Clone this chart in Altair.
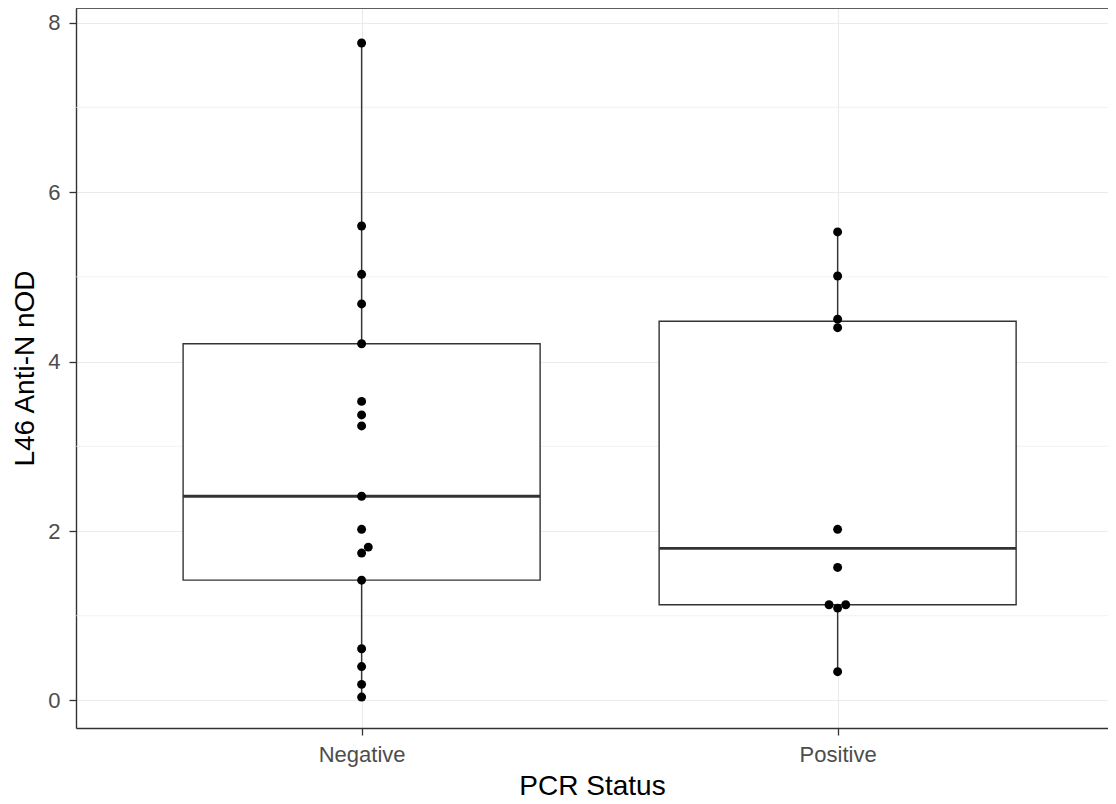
import altair as alt
import pandas as pd

# ---- data ----
categories = ["Negative", "Positive"]
neg_values = [7.76, 5.60, 5.03, 4.68, 4.21, 3.53, 3.37, 3.24, 2.41, 2.02,
              1.81, 1.74, 1.42, 0.61, 0.40, 0.19, 0.04]
neg_offsets = [0, 0, 0, 0, 0, 0, 0, 0, 0, 0,
               0.014, 0, 0, 0, 0, 0, 0]
pos_values = [5.53, 5.01, 4.50, 4.40, 2.02, 1.57, 1.13, 1.09, 1.13, 0.34]
pos_offsets = [0, 0, 0, 0, 0, 0, -0.018, 0, 0.017, 0]
y_major = [0, 2, 4, 6, 8]
y_minor = [1, 3, 5, 7]
Y_MIN, Y_MAX = -0.325, 8.173
X_MIN, X_MAX = 0.4, 2.568

rows = []
for i, (vals, offs) in enumerate([(neg_values, neg_offsets), (pos_values, pos_offsets)]):
    for v, o in zip(vals, offs):
        rows.append({"group": categories[i], "idx": i + 1, "value": v, "xp": i + 1 + o})
df = pd.DataFrame(rows)

FONT = "Liberation Sans"
BORDER = "#333333"
GRID = "#EBEBEB"
W, H = 1032, 720

xscale = alt.Scale(domain=[X_MIN, X_MAX], nice=False, zero=False)
yscale = alt.Scale(domain=[Y_MIN, Y_MAX], nice=False, zero=False)

label_expr = "datum.value == 1 ? '%s' : '%s'" % (categories[0], categories[1])

x_axis = alt.Axis(values=[1, 2], labelExpr=label_expr, title="PCR Status",
                  grid=True, gridColor=GRID, gridWidth=1.1,
                  domainColor=BORDER, domainWidth=1.4,
                  tickColor=BORDER, tickWidth=1.3, tickSize=7,
                  labelColor="#4D4D4D", labelFont=FONT, labelFontSize=22,
                  labelPadding=9,
                  titleFont=FONT, titleFontSize=28, titleFontWeight="normal",
                  titleColor="black", titleY=66, titleBaseline="alphabetic")
y_axis = alt.Axis(values=y_major, format="d", title="L46 Anti-N nOD",
                  grid=True, gridColor=GRID, gridWidth=1.1,
                  domainColor=BORDER, domainWidth=1.4,
                  tickColor=BORDER, tickWidth=1.3, tickSize=7,
                  labelColor="#4D4D4D", labelFont=FONT, labelFontSize=22,
                  labelPadding=9,
                  titleFont=FONT, titleFontSize=28, titleFontWeight="normal",
                  titleColor="black", titleAngle=270, titleX=-43, titleY=H / 2,
                  titleAlign="center", titleBaseline="alphabetic")

minor = alt.Chart(pd.DataFrame({"g": y_minor})).mark_rule(
    color=GRID, strokeWidth=0.7).encode(
    y=alt.Y("g:Q", scale=yscale, axis=y_axis))

top_border = alt.Chart(pd.DataFrame({"t": [Y_MAX]})).mark_rule(
    color=BORDER, strokeWidth=1.4).encode(
    y=alt.Y("t:Q", scale=yscale))

stats = (alt.Chart(df)
         .transform_joinaggregate(q1="q1(value)", q3="q3(value)", groupby=["idx"])
         .transform_calculate(lo="datum.q1 - 1.5*(datum.q3 - datum.q1)",
                              hi="datum.q3 + 1.5*(datum.q3 - datum.q1)")
         .transform_calculate(vin="datum.value >= datum.lo && datum.value <= datum.hi ? datum.value : null")
         .transform_aggregate(q1="min(q1)", q3="min(q3)", med="median(value)",
                              wlo="min(vin)", whi="max(vin)", groupby=["idx"])
         .transform_calculate(xl="datum.idx - 0.375", xr="datum.idx + 0.375"))

whisker = stats.mark_rule(color=BORDER, strokeWidth=1.4).encode(
    x=alt.X("idx:Q", scale=xscale, axis=x_axis),
    y=alt.Y("wlo:Q", scale=yscale),
    y2="whi:Q")

box = stats.mark_rect(fill="white", stroke=BORDER, strokeWidth=1.4).encode(
    x=alt.X("xl:Q", scale=xscale), x2="xr:Q",
    y=alt.Y("q1:Q", scale=yscale), y2="q3:Q")

median = stats.mark_rule(color=BORDER, strokeWidth=2.9).encode(
    x=alt.X("xl:Q", scale=xscale), x2="xr:Q",
    y=alt.Y("med:Q", scale=yscale))

points = alt.Chart(df).mark_circle(size=80, color="black", opacity=1).encode(
    x=alt.X("xp:Q", scale=xscale),
    y=alt.Y("value:Q", scale=yscale))

chart = (alt.layer(minor, whisker, box, median, points, top_border)
         .properties(width=W, height=H,
                     autosize=alt.AutoSizeParams(type="none"),
                     padding={"left": 68, "top": 0, "right": 0, "bottom": 76})
         .configure_view(strokeWidth=0)
         .configure(background="white"))

chart.save("out.html", embed_options={"renderer": "svg", "actions": False})
